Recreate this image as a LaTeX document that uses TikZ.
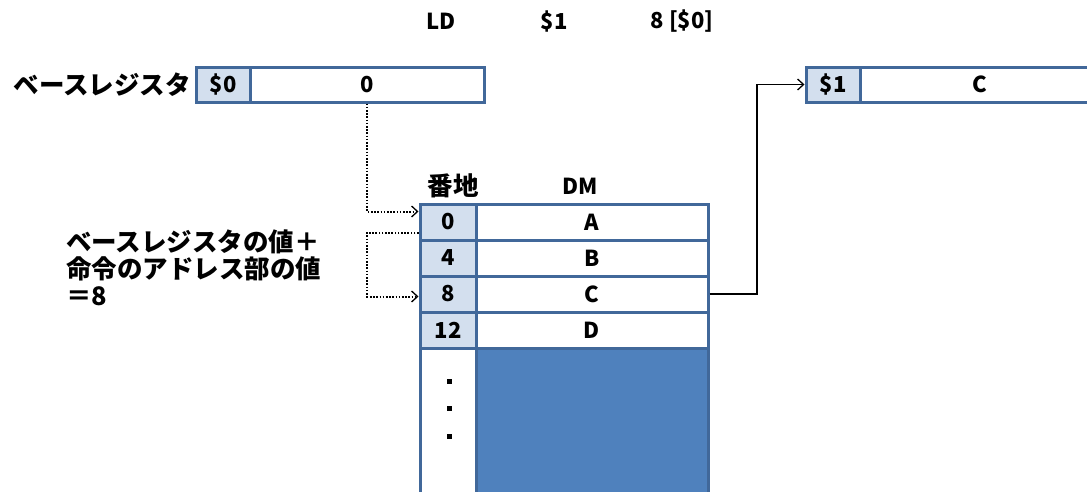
\documentclass[tikz,border=0pt]{standalone}
\usepackage{fontspec}
\setmainfont{Noto Sans CJK JP}
\usetikzlibrary{arrows.meta}
\definecolor{cellborder}{HTML}{41689A}
\definecolor{cellfill}{HTML}{D3DFEE}
\definecolor{blockfill}{HTML}{4F81BD}
\tikzset{
  txt/.style={inner sep=0pt, font=\fontsize{22}{27}\selectfont\bfseries},
  jtxt/.style={inner sep=0pt, font=\fontsize{25.5}{27}\selectfont\bfseries},
  cell/.style={draw=cellborder, line width=3pt, inner sep=0pt, minimum height=36pt,
    font=\fontsize{22}{27}\selectfont\bfseries},
  namecell/.style={cell, fill=cellfill, minimum width=54pt},
  addrcell/.style={cell, fill=cellfill, minimum width=56pt},
  datacell/.style={cell, fill=white, minimum width=232pt},
  dotline/.style={line width=2pt, dash pattern=on 1.6pt off 1.6pt,
    -{Straight Barb[length=6pt,width=11pt,line width=1.3pt]}},
  solidline/.style={line width=1.5pt,
    -{Straight Barb[length=6pt,width=11pt,line width=1.3pt]}},
  dotmark/.style={fill=black, inner sep=0pt, minimum size=5pt}
}
\begin{document}
\begin{tikzpicture}[x=1pt, y=-1pt]
\useasboundingbox (0,0) rectangle (1087,491);
\clip (0,0) rectangle (1087,491);

% instruction line
\node[txt] (op)  at (441,21) {LD};
\node[txt] (dst) at (554,21) {\$1};
\node[txt] (src) at (682,21) {8 [\$0]};

% base register $0
\node[jtxt, anchor=east] (baselbl) at (191,85) {ベースレジスタ};
\node[namecell, minimum height=35pt] (r0n) at (223,84.5) {\$0};
\node[cell, fill=white, minimum width=234pt, minimum height=35pt] (r0v) at (367,84.5) {0};

% destination register $1
\node[namecell, minimum height=35pt] (r1n) at (833,84.5) {\$1};
\node[cell, fill=white, minimum width=240pt, minimum height=35pt] (r1v) at (980,84.5) {C};

% data memory headers
\node[jtxt] (hAddr) at (453,186) {番地};
\node[txt] (hDM) at (580,186) {DM};

% data memory rows
\node[addrcell] (a0)  at (448,222) {0};
\node[datacell] (d0)  at (592,222) {A};
\node[addrcell] (a4)  at (448,258) {4};
\node[datacell] (d4)  at (592,258) {B};
\node[addrcell] (a8)  at (448,294) {8};
\node[datacell] (d8)  at (592,294) {C};
\node[addrcell] (a12) at (448,330) {12};
\node[datacell] (d12) at (592,330) {D};
\node[cell, fill=white, minimum width=56pt, minimum height=170pt] (arest) at (448,433) {};
\node[cell, fill=blockfill, minimum width=232pt, minimum height=170pt] (drest) at (592,433) {};
\node[dotmark] (dot1) at (449,381.5) {};
\node[dotmark] (dot2) at (449,408.5) {};
\node[dotmark] (dot3) at (449,436) {};

% effective address note
\node[jtxt, anchor=north west, align=left] (note) at (66,230)
  {ベースレジスタの値＋\\命令のアドレス部の値\\＝8};

% connectors
\coordinate (c0) at (367,211.5);
\coordinate (c8a) at (367,232.5);
\coordinate (c8b) at (367,296.5);
\draw[dotline] (r0v.south) -- (c0) -- (a0.west |- c0);
\draw[dotline] (a0.west |- c8a) -- (c8a) -- (c8b) -- (a8.west |- c8b);
\coordinate (up) at (757,294);
\draw[solidline] (d8.east) -- (up) -- (up |- r1n.west) -- (r1n.west);
\end{tikzpicture}
\end{document}
